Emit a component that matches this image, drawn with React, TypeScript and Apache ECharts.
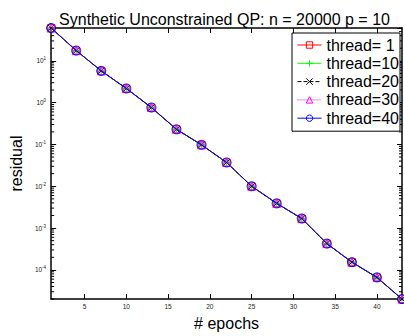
import React, { useEffect, useRef } from "react";
import * as echarts from "echarts";

const epochs = [1, 4, 7, 10, 13, 16, 19, 22, 25, 28, 31, 34, 37, 40, 43];
const residual = [61, 17.6, 5.75, 2.18, 0.764, 0.23, 0.098, 0.037, 0.01, 0.0039, 0.00169, 4.26e-4, 1.53e-4, 6.6e-5, 2.0e-5];
const threadNames = ["thread= 1", "thread=10", "thread=20", "thread=30", "thread=40"];
const threadColors = ["#ff0000", "#00ff00", "#000000", "#ff00ff", "#0000ff"];
const threadSymbols = [
  "rect",
  "path://M0,5L10,5M5,0L5,10",
  "path://M0,0L10,10M10,0L0,10",
  "triangle",
  "circle",
];
const threadLineTypes = ["solid", "solid", "dashed", "dotted", "solid"];
const threadSymbolSizes = [7, 8, 6, 8, 9];
const xTicks = [5, 10, 15, 20, 25, 30, 35, 40];
const titleText = "Synthetic Unconstrained QP: n = 20000 p = 10";

const FONT = "Liberation Sans";

export default function App() {
  const ref = useRef<HTMLDivElement>(null);
  useEffect(() => {
    if (!ref.current) return;
    const chart = echarts.init(ref.current, null, { renderer: "svg" });
    const yMin = Math.min(...residual);
    const yMax = Math.max(...residual);
    const xMin = epochs[0];
    const xMax = epochs[epochs.length - 1];

    // minor log ticks
    const minor: number[][] = [];
    for (let e = -6; e <= 2; e++) {
      for (let k = 2; k <= 9; k++) {
        const v = k * Math.pow(10, e);
        if (v >= yMin && v <= yMax) minor.push([xMin, v]);
      }
    }

    const pair = threadNames.map((name, i) => ({
      name,
      type: "line",
      xAxisIndex: 0,
      yAxisIndex: 0,
      data: epochs.map((x, j) => [x, residual[j]]),
      symbol: threadSymbols[i],
      symbolSize: threadSymbolSizes[i],
      showSymbol: true,
      lineStyle: { color: threadColors[i], width: 1, type: threadLineTypes[i] },
      itemStyle: { color: "none", borderColor: threadColors[i], borderWidth: 1 },
      emphasis: { disabled: true },
      z: 3 + i,
    }));

    const supFormatter = (v: number) => {
      const e = Math.log10(v);
      const r = Math.round(e);
      if (Math.abs(e - r) > 1e-6) return "";
      return `{b|10}{s|${r}}`;
    };

    const yAxisCommon = {
      type: "log",
      logBase: 10,
      min: yMin,
      max: yMax,
      splitLine: { show: false },
      axisLine: { show: true, lineStyle: { color: "#000", width: 1.5 } },
      axisTick: { show: true, inside: true, length: 5, lineStyle: { color: "#000" } },
    };

    chart.setOption({
      animation: false,
      title: {
        text: titleText,
        left: 219.5,
        textAlign: "center",
        top: 6,
        textStyle: { fontFamily: FONT, fontSize: 16, fontWeight: "normal", color: "#000" },
      },
      grid: { left: 45, right: 2, top: 28, bottom: 26, containLabel: false },
      legend: {
        data: threadNames,
        orient: "vertical",
        left: 292,
        top: 33,
        padding: [3, 1, 4, 5],
        itemWidth: 24,
        itemHeight: 8,
        itemGap: 0.3,
        borderColor: "#000",
        borderWidth: 1,
        backgroundColor: "#fff",
        lineStyle: { width: 1 },
        itemStyle: { borderWidth: 1 },
        textStyle: { fontFamily: FONT, fontSize: 16, color: "#000", lineHeight: 18 },
      },
      xAxis: [
        {
          type: "value",
          min: xMin,
          max: xMax,
          position: "bottom",
          splitLine: { show: false },
          axisLine: { show: true, onZero: false, lineStyle: { color: "#000", width: 1.5 } },
          axisTick: { show: true, inside: true, length: 5, customValues: xTicks, lineStyle: { color: "#000" } },
          axisLabel: { customValues: xTicks, fontFamily: FONT, fontSize: 6.5, color: "#222", margin: 4 },
          name: "# epochs",
          nameLocation: "middle",
          nameGap: 10,
          nameTextStyle: { fontFamily: FONT, fontSize: 16, color: "#000" },
        },
        {
          type: "value",
          min: xMin,
          max: xMax,
          position: "top",
          splitLine: { show: false },
          axisLine: { show: true, onZero: false, lineStyle: { color: "#000", width: 1.5 } },
          axisTick: { show: true, inside: true, length: 5, customValues: xTicks, lineStyle: { color: "#000" } },
          axisLabel: { show: false },
        },
      ],
      yAxis: [
        {
          ...yAxisCommon,
          position: "left",
          axisLabel: {
            formatter: supFormatter,
            showMinLabel: false,
            showMaxLabel: false,
            margin: 5,
            fontFamily: FONT,
            color: "#222",
            rich: {
              b: { fontFamily: FONT, fontSize: 6.5, color: "#222" },
              s: { fontFamily: FONT, fontSize: 4.5, color: "#222", padding: [0, 0, 4, 0] },
            },
          },
          name: "residual",
          nameLocation: "middle",
          nameGap: 23,
          nameTextStyle: { fontFamily: FONT, fontSize: 16, color: "#000" },
        },
        {
          ...yAxisCommon,
          position: "right",
          axisLabel: { show: false },
        },
      ],
      series: [
        {
          name: "minorTicks",
          type: "custom",
          xAxisIndex: 0,
          yAxisIndex: 0,
          silent: true,
          clip: false,
          data: minor,
          renderItem: (params: any, api: any) => {
            const p = api.coord([api.value(0), api.value(1)]);
            const cs = params.coordSys;
            return {
              type: "group",
              children: [
                { type: "line", shape: { x1: cs.x, y1: p[1], x2: cs.x + 3, y2: p[1] }, style: { stroke: "#000", lineWidth: 1 } },
                { type: "line", shape: { x1: cs.x + cs.width, y1: p[1], x2: cs.x + cs.width - 3, y2: p[1] }, style: { stroke: "#000", lineWidth: 1 } },
              ],
            };
          },
          z: 2,
        },
        ...pair,
      ],
    });
    return () => chart.dispose();
  }, []);
  return <div ref={ref} style={{ width: 404, height: 336, position: "absolute", left: 0, top: 0 }} />;
}
